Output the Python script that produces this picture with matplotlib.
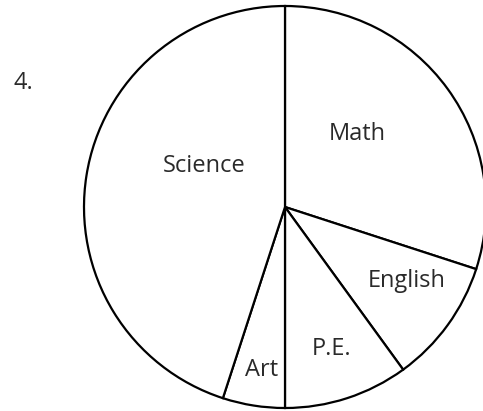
import matplotlib.pyplot as plt

# data
subjects = ["Math", "English", "P.E.", "Art", "Science"]
percent = [30, 10, 10, 5, 45]

# label positions in pixels (x, y from top)
label_pos = [(357, 134), (407, 281), (332, 349), (262, 370), (204, 166)]

W, H = 483, 411
fig = plt.figure(figsize=(W / 100, H / 100), dpi=100)
ax = fig.add_axes([0, 0, 1, 1])

wedges, texts = ax.pie(percent, labels=subjects, startangle=90, counterclock=False,
                       center=(285, H - 207), radius=201, colors=["white"] * 5,
                       wedgeprops=dict(edgecolor="black", linewidth=1.6),
                       textprops=dict(fontsize=17, color="#2a2a2a", family="Open Sans"))

for t, (x, y) in zip(texts, label_pos):
    t.set_position((x, H - y))
    t.set_ha("center")
    t.set_va("center")

ax.text(23, H - 83, "4.", fontsize=17, color="#2a2a2a", family="Open Sans",
        ha="center", va="center")

ax.set_xlim(0, W)
ax.set_ylim(0, H)
ax.set_aspect("equal")
ax.axis("off")

fig.savefig("out.png", dpi=100)
